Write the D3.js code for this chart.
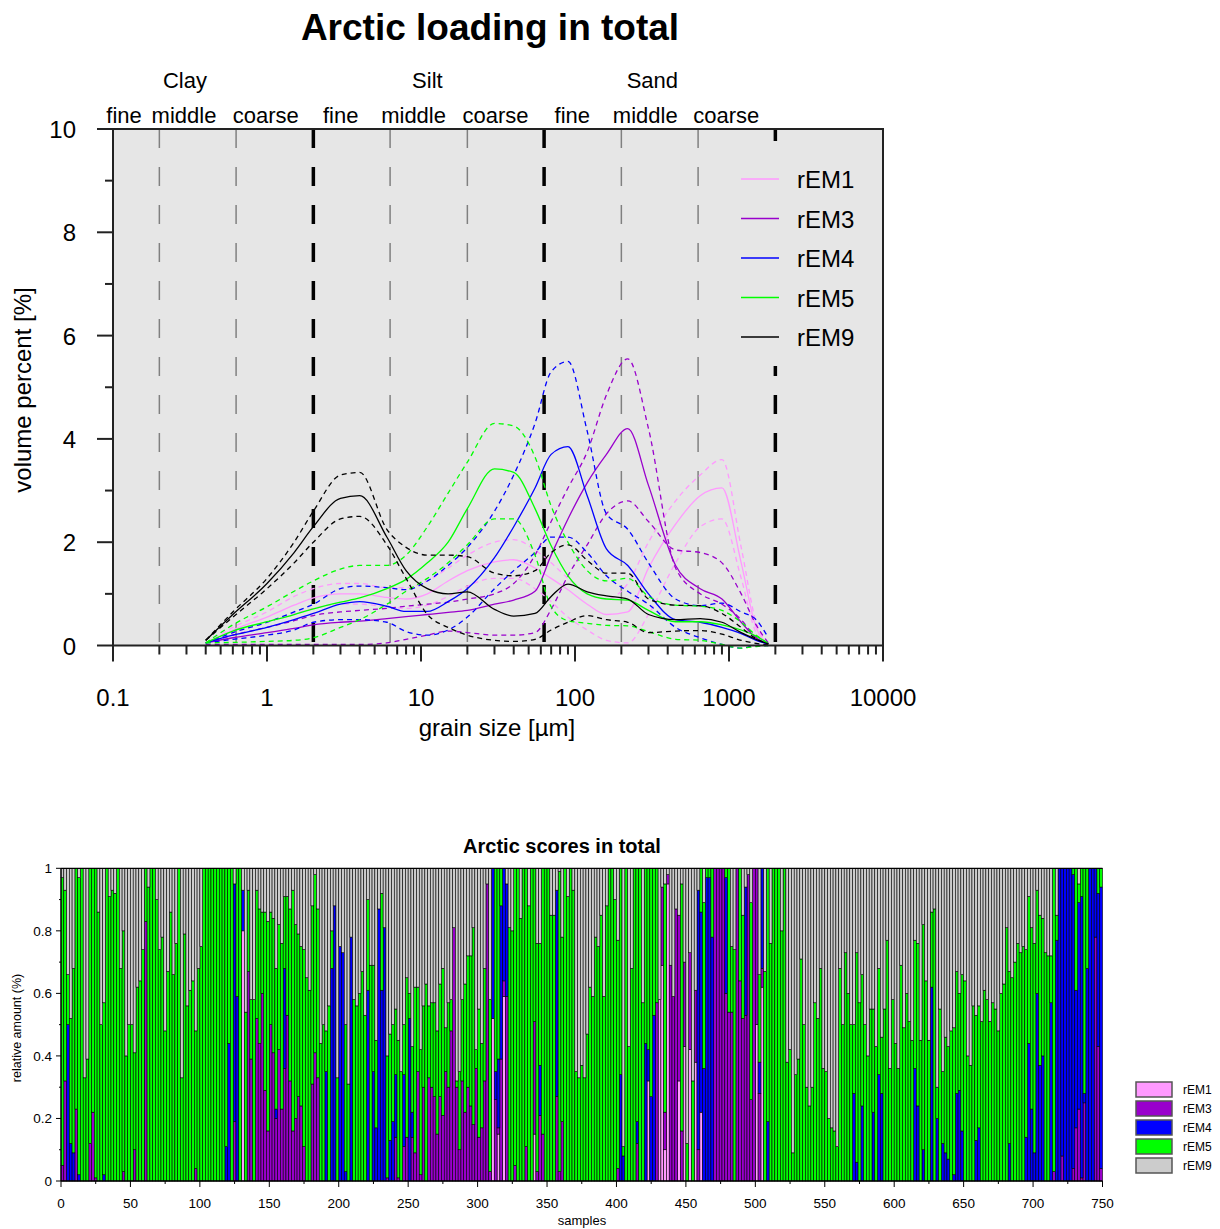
<!DOCTYPE html>
<html>
<head>
<meta charset="utf-8">
<script src="https://cdn.jsdelivr.net/npm/d3@7"></script>
<style>
  body { margin: 0; background: #fff; }
  svg { display: block; font-family: "Liberation Sans", Arial, sans-serif; }
</style>
</head>
<body>
<div id="container"></div>
<script>
// ---------- loadings (top chart) ----------
const emNames = ["rEM1", "rEM3", "rEM4", "rEM5", "rEM9"]

// grain sizes (µm) at which the loading curves were read
const grain = [0.4, 0.6, 1, 1.5, 2, 3, 4, 6, 8, 11, 15, 20, 30, 40, 55, 70, 90, 120, 160, 220, 300, 450, 650, 900, 1200, 1500, 1800]

// mean loadings (volume %)
const load1 = [0.05,0.3,0.55,0.78,0.92,1.0,1.0,0.93,0.9,1.0,1.25,1.45,1.62,1.66,1.5,1.3,1.08,0.8,0.6,0.65,1.5,2.35,2.9,3.05,1.6,0.35,0.04]
const load3 = [0.05,0.15,0.25,0.33,0.4,0.45,0.47,0.52,0.56,0.6,0.64,0.68,0.8,0.88,1.05,1.75,2.45,3.15,3.7,4.2,3.1,1.55,1.1,0.9,0.45,0.15,0.03]
const load4 = [0.05,0.2,0.35,0.5,0.62,0.8,0.85,0.76,0.66,0.66,0.85,1.1,1.7,2.3,3.05,3.7,3.85,2.9,1.87,1.55,1.0,0.5,0.45,0.35,0.23,0.1,0.03]
const load5 = [0.05,0.28,0.46,0.6,0.71,0.84,0.92,1.1,1.28,1.6,2.0,2.65,3.42,3.35,2.65,1.93,1.35,1.0,0.9,0.88,0.68,0.46,0.46,0.4,0.3,0.18,0.04]
const load9 = [0.1,0.6,1.2,1.8,2.3,2.85,2.9,2.1,1.45,1.1,1.0,1.04,0.7,0.57,0.62,0.95,1.19,1.04,0.96,0.9,0.6,0.5,0.52,0.45,0.25,0.12,0.03]

// upper / lower range lines (dashed)
const upper1 = [0.05,0.35,0.65,0.95,1.1,1.2,1.2,1.12,1.12,1.25,1.5,1.75,2.0,2.05,1.85,1.6,1.3,1.0,0.9,1.2,2.0,2.8,3.3,3.6,1.9,0.45,0.05]
const lower1 = [0.05,0.25,0.45,0.62,0.72,0.8,0.8,0.75,0.72,0.78,0.95,1.15,1.3,1.3,1.1,0.85,0.55,0.3,0.1,0.05,0.6,1.6,2.3,2.45,1.3,0.25,0.03]
const upper3 = [0.05,0.2,0.35,0.48,0.58,0.65,0.68,0.72,0.76,0.8,0.84,0.9,1.0,1.2,1.75,2.4,3.05,3.75,4.85,5.55,4.2,1.5,1.0,0.8,0.5,0.15,0.03]
const lower3 = [0.02,0.02,0.02,0.02,0.02,0.02,0.02,0.05,0.12,0.2,0.28,0.25,0.2,0.2,0.25,0.7,1.35,1.95,2.55,2.8,2.4,1.85,1.8,1.6,1.0,0.4,0.05]
const upper4 = [0.05,0.25,0.45,0.65,0.8,1.1,1.15,1.12,1.08,1.25,1.55,1.9,2.6,3.3,4.3,5.3,5.5,4.15,2.55,2.25,1.6,0.9,0.77,0.82,0.65,0.5,0.15]
const lower4 = [0.05,0.12,0.2,0.3,0.45,0.5,0.5,0.45,0.27,0.2,0.3,0.55,1.1,1.45,1.8,2.1,2.1,1.8,1.35,1.05,0.8,0.35,0.15,0.02,-0.05,0,0]
const upper5 = [0.05,0.4,0.75,1.05,1.25,1.48,1.55,1.55,1.75,2.3,2.95,3.55,4.3,4.25,3.65,2.7,2.0,1.45,1.25,1.3,0.95,0.78,0.76,0.68,0.45,0.2,0.04]
const lower5 = [0.05,0.06,0.08,0.1,0.15,0.35,0.5,0.8,1.05,1.3,1.6,1.95,2.45,2.45,1.75,0.75,0.48,0.43,0.39,0.38,0.27,0.12,0.1,0.02,-0.05,-0.02,0]
const upper9 = [0.1,0.65,1.3,2.0,2.6,3.3,3.35,2.25,1.9,1.75,1.75,1.72,1.4,1.35,1.45,1.8,1.95,1.65,1.4,1.4,0.9,0.78,0.77,0.62,0.35,0.13,0.03]
const lower9 = [0.1,0.55,1.1,1.6,2.0,2.45,2.5,1.95,1.3,0.6,0.35,0.2,0.1,0.08,0.12,0.3,0.45,0.58,0.5,0.45,0.25,0.28,0.29,0.22,0.1,0.04,0.01]

// grain-size class boundaries (µm)
const minorBounds = [0.2, 0.63, 6.3, 20, 200, 630]
const majorBounds = [2, 63, 2000]
const classGroups = [["Clay", 0.293], ["Silt", 11.0], ["Sand", 318]]
const classParts = [["fine", 0.118], ["middle", 0.289], ["coarse", 0.982],
                    ["fine", 3.01], ["middle", 8.95], ["coarse", 30.5],
                    ["fine", 96], ["middle", 286], ["coarse", 960]]
const xTickLabels = ["0.1", "1", "10", "100", "1000", "10000"]

// ---------- scores (bottom chart), one bar per two samples, values in % ----------
const rEM1 = [
  0,0,0,0,0,0,0,0,0,0,0,0,0,0,0,0,0,0,0,0,0,0,0,0,0,
  0,0,0,0,0,0,0,0,0,0,0,0,0,0,0,0,0,0,0,0,0,0,0,0,0,
  0,0,0,0,0,0,0,0,0,0,0,0,0,0,0,80,0,0,0,0,0,0,0,0,0,
  0,0,0,0,0,0,0,0,0,0,0,0,0,0,0,0,0,0,0,0,0,0,0,0,0,
  0,0,0,0,0,0,0,0,0,0,0,0,0,0,0,0,0,0,0,0,0,0,0,0,0,
  0,0,0,0,0,0,0,0,0,0,0,0,0,0,0,0,0,0,0,0,0,0,0,0,0,
  0,0,0,0,0,52,0,15,0,59,0,0,0,0,0,0,0,0,0,0,15,0,0,0,0,
  0,0,0,0,0,0,0,0,0,0,0,0,0,0,0,0,0,0,0,0,0,0,0,0,0,
  0,0,0,0,0,0,0,0,0,0,0,32,0,0,0,58,69,10,95,0,0,0,32,0,43,
  0,42,0,38,0,22,0,0,0,0,0,0,0,0,0,0,0,0,0,0,0,0,0,0,0,
  50,0,62,0,0,0,0,0,0,0,0,0,0,0,0,0,0,0,0,0,0,0,0,0,0,
  0,0,0,0,0,0,0,0,0,0,0,0,0,0,0,0,0,0,0,0,0,0,0,0,0,
  0,0,0,0,0,0,0,0,0,0,0,0,0,0,0,0,0,0,0,0,0,0,0,0,0,
  0,0,0,0,0,0,0,0,0,0,0,0,0,0,0,0,0,0,0,0,0,0,0,0,0,
  0,0,0,0,0,0,0,0,0,0,0,0,0,0,0,0,0,0,0,0,0,0,0,0,0]
const rEM3 = [
  5,32,0,0,0,23,0,0,0,0,12,22,1,0,0,0,0,0,0,0,0,0,3,0,0,
  0,10,0,0,0,83,0,0,0,0,0,0,0,0,0,0,0,0,0,0,0,0,0,4,0,
  0,0,0,0,0,0,0,0,0,0,0,0,19,0,0,0,0,67,39,0,52,44,60,29,16,
  50,41,20,42,23,36,53,32,16,20,27,24,11,0,0,31,41,33,0,0,0,0,0,0,0,
  0,0,0,0,0,0,0,0,0,0,0,0,0,0,0,0,0,1,0,0,14,1,0,11,14,
  0,14,9,35,2,30,0,33,30,27,15,27,21,35,30,48,81,30,10,32,22,30,24,18,36,
  14,17,32,95,3,0,26,2,39,5,59,0,0,5,0,0,0,11,0,0,36,3,21,15,0,
  0,0,0,27,3,19,0,0,0,0,0,0,0,0,0,0,0,0,0,0,0,0,0,0,0,
  4,0,0,0,0,0,0,12,0,0,0,0,0,0,57,0,25,12,3,69,59,87,53,16,27,
  0,31,0,23,10,0,0,0,0,0,100,100,100,100,60,54,54,0,100,64,52,53,98,26,100,
  50,28,6,0,0,0,0,0,0,0,0,0,0,0,0,0,0,0,0,0,0,0,0,0,0,
  0,0,0,0,0,0,0,0,0,0,0,0,0,0,0,0,0,0,0,0,0,0,0,0,0,
  0,0,0,0,0,0,0,0,0,0,0,0,0,0,0,0,0,0,0,0,0,0,0,0,0,
  0,0,0,0,0,0,0,0,0,0,0,0,0,0,0,0,0,0,0,0,0,0,0,0,0,
  0,0,0,0,0,0,0,3,0,0,8,0,0,0,4,17,23,1,25,0,0,0,78,43,4]
const rEM4 = [
  0,0,50,12,9,0,2,0,0,0,0,0,0,0,0,2,0,0,0,0,0,0,0,0,0,
  0,0,0,0,0,0,0,0,0,0,0,0,0,0,0,0,0,0,0,0,0,0,0,0,0,
  0,0,0,0,0,0,0,0,0,11,44,0,76,59,0,13,0,0,0,0,0,0,0,0,0,
  0,0,3,0,0,32,0,0,0,0,0,0,0,0,0,0,0,0,0,0,35,0,68,88,0,
  75,73,3,0,78,0,0,0,0,0,61,0,35,17,87,61,81,0,13,19,20,0,0,23,0,
  52,8,0,0,0,0,0,0,0,0,0,0,0,0,0,0,0,0,0,0,0,0,0,0,0,
  0,0,0,0,0,48,9,22,49,36,36,0,0,0,0,0,0,0,0,0,0,0,16,0,0,
  0,0,0,66,0,0,0,0,0,0,0,0,0,0,0,0,0,0,0,0,0,0,0,0,0,
  0,34,8,0,0,0,0,7,0,0,44,10,27,53,0,0,0,0,0,0,0,0,0,0,0,
  0,0,0,0,83,64,36,97,97,78,0,0,0,0,37,0,0,0,0,0,0,41,0,0,0,
  0,10,32,0,19,0,0,0,0,0,0,0,0,0,0,0,0,0,0,0,0,0,0,0,0,
  0,0,0,0,0,0,0,0,0,0,28,6,0,24,0,0,0,22,0,34,28,0,0,0,0,
  0,0,0,0,0,0,0,36,24,0,10,0,0,62,0,20,0,12,9,7,0,2,28,29,16,
  0,0,0,0,13,17,0,0,0,0,0,0,0,0,0,0,12,0,0,0,0,0,14,44,23,
  9,60,37,40,0,0,57,0,77,100,92,100,100,100,94,44,66,90,3,68,100,100,22,49,90]
const rEM5 = [
  92,61,16,40,59,77,95,100,33,39,88,78,99,86,50,55,100,91,93,92,100,68,77,40,50,
  50,31,62,64,74,17,94,100,100,90,74,78,48,67,86,66,76,100,33,79,56,61,64,44,68,
  75,100,100,100,100,100,100,100,100,89,56,100,0,41,100,0,54,26,19,58,41,43,26,57,67,
  36,43,45,40,53,23,38,55,77,62,52,51,63,65,61,57,57,54,44,50,13,56,12,0,33,
  0,0,47,31,0,58,56,60,67,53,29,69,34,28,0,31,0,39,34,31,21,44,35,16,51,
  8,21,53,27,40,26,63,23,27,30,33,36,47,14,27,10,0,2,25,26,41,42,48,63,6,
  41,27,36,0,55,0,65,61,12,0,0,81,80,95,100,84,100,89,88,100,49,73,39,85,100,
  100,85,85,0,96,59,100,91,100,93,35,33,37,33,47,62,59,78,75,85,59,88,100,100,90,
  73,66,3,100,43,68,100,81,100,57,56,58,73,47,43,0,0,73,0,0,0,0,0,79,0,
  12,0,32,0,0,14,53,3,3,22,0,0,0,0,3,46,21,74,0,36,33,0,0,63,0,
  0,28,0,67,81,76,100,100,100,80,100,38,42,9,34,39,71,50,30,24,30,57,52,68,36,
  35,20,17,16,11,68,50,73,60,50,22,67,57,42,50,40,55,33,43,34,18,55,77,36,58,
  44,36,69,49,60,51,45,41,52,45,72,64,45,24,87,10,55,23,37,36,48,47,39,31,50,
  64,40,37,56,40,39,51,61,58,51,57,55,48,60,63,81,55,65,70,76,73,75,60,47,58,
  67,33,48,44,73,72,15,97,8,0,0,0,0,0,2,39,6,9,72,32,0,0,0,8,6]
const rEM9 = [
  3,7,34,48,32,0,3,0,67,61,0,0,0,14,50,43,0,9,7,8,0,32,20,60,50,
  50,59,38,36,26,0,6,0,0,10,26,22,52,33,14,34,24,0,67,21,44,39,36,52,32,
  25,0,0,0,0,0,0,0,0,0,0,0,5,0,0,7,46,7,42,42,7,13,14,14,17,
  14,16,32,18,24,9,9,13,7,18,21,25,26,35,39,12,2,13,56,50,52,44,20,12,67,
  25,27,50,69,22,42,44,40,33,47,10,31,31,55,13,8,19,60,53,50,45,55,65,50,35,
  40,57,38,38,58,44,37,44,43,43,52,37,32,51,43,42,19,68,65,42,37,28,28,19,58,
  45,56,32,5,42,0,0,0,0,0,5,19,20,0,0,16,0,0,12,0,0,24,24,0,0,
  0,15,15,7,1,22,0,9,0,7,65,67,63,67,53,38,41,22,25,15,41,12,0,0,10,
  23,0,89,0,57,32,0,0,0,43,0,0,0,0,0,42,6,5,2,31,41,13,15,5,30,
  88,27,68,39,7,0,11,0,0,0,0,0,0,0,0,0,25,26,0,0,15,6,2,11,0,
  0,34,0,33,0,24,0,0,0,20,0,62,58,91,66,61,29,50,70,76,70,43,48,32,64,
  65,80,83,84,89,32,50,27,40,50,50,27,43,34,50,60,45,45,57,32,54,45,23,64,42,
  56,64,31,51,40,49,55,23,24,55,18,36,55,14,13,70,45,65,54,57,52,51,33,40,34,
  36,60,63,44,47,44,49,39,42,49,43,45,52,40,37,19,33,35,30,24,27,25,26,9,19,
  24,7,15,16,27,28,28,0,15,0,0,0,0,0,0,0,5,0,0,0,0,0,0,0,0]
const samplesPerBar = 2

const lineColors = { rEM1: "#ff99ff", rEM3: "#9900cc", rEM4: "#0000ff", rEM5: "#00ff00", rEM9: "#000000" }
const barColors = { rEM1: "#ff99ff", rEM3: "#9900cc", rEM4: "#0000ff", rEM5: "#00ff00", rEM9: "#cccccc" }

//add svg
let svg = d3.select("#container")
    .append("svg")
    .attr("width", 1220)
    .attr("height", 1229)

// ================= top: loadings =================
const x = d3.scaleLog().domain([0.1, 10000]).range([113, 883])
const y = d3.scaleLinear().domain([0, 10]).range([645.5, 129])
const plotBg = "#e6e6e6"

svg.append("text")
    .attr("x", 490).attr("y", 40)
    .attr("text-anchor", "middle")
    .attr("font-size", 37).attr("font-weight", "bold")
    .text("Arctic loading in total")

svg.append("rect")
    .attr("x", x(0.1)).attr("y", y(10))
    .attr("width", x(10000) - x(0.1)).attr("height", y(0) - y(10))
    .attr("fill", plotBg)

//class boundaries
svg.selectAll(null).data(minorBounds).enter().append("line")
    .attr("x1", d => x(d)).attr("x2", d => x(d))
    .attr("y1", y(10)).attr("y2", y(0))
    .attr("stroke", "#808080").attr("stroke-width", 1.5)
    .attr("stroke-dasharray", "19,19")
svg.selectAll(null).data(majorBounds).enter().append("line")
    .attr("x1", d => x(d)).attr("x2", d => x(d))
    .attr("y1", y(10)).attr("y2", y(0))
    .attr("stroke", "#000").attr("stroke-width", 3.5)
    .attr("stroke-dasharray", "19,19")

//legend background hides the boundary line behind it
svg.append("rect")
    .attr("x", 733).attr("y", 141).attr("width", 146).attr("height", 225)
    .attr("fill", plotBg)

//curves
const line = d3.line()
    .x(d => x(d[0]))
    .y(d => y(d[1]))
    .curve(d3.curveMonotoneX)

const curves = [
  ["rEM1", load1, upper1, lower1],
  ["rEM3", load3, upper3, lower3],
  ["rEM4", load4, upper4, lower4],
  ["rEM5", load5, upper5, lower5],
  ["rEM9", load9, upper9, lower9]
]
const curveG = svg.append("g")
curves.forEach(([name, mean, up, low]) => {
    [up, low].forEach(vals => {
        curveG.append("path")
            .datum(d3.zip(grain, vals))
            .attr("d", line)
            .attr("fill", "none")
            .attr("stroke", lineColors[name])
            .attr("stroke-width", 1.3)
            .attr("stroke-dasharray", "5,4")
    })
    curveG.append("path")
        .datum(d3.zip(grain, mean))
        .attr("d", line)
        .attr("fill", "none")
        .attr("stroke", lineColors[name])
        .attr("stroke-width", 1.3)
})

//frame
svg.append("rect")
    .attr("x", x(0.1)).attr("y", y(10))
    .attr("width", x(10000) - x(0.1)).attr("height", y(0) - y(10))
    .attr("fill", "none").attr("stroke", "#222").attr("stroke-width", 2)

//y axis ticks
const yTicks = d3.range(0, 11)
svg.selectAll(null).data(yTicks).enter().append("line")
    .attr("x1", d => d % 2 ? x(0.1) - 8 : x(0.1) - 16).attr("x2", x(0.1))
    .attr("y1", d => y(d)).attr("y2", d => y(d))
    .attr("stroke", "#222").attr("stroke-width", 2)
svg.selectAll(null).data(yTicks.filter(d => d % 2 === 0)).enter().append("text")
    .attr("x", 76).attr("y", d => y(d) + 9)
    .attr("text-anchor", "end").attr("font-size", 24)
    .text(d => d)

//x axis ticks
const decades = [0.1, 1, 10, 100, 1000, 10000]
const minorX = decades.slice(0, -1).flatMap(d => d3.range(2, 10).map(k => k * d))
svg.selectAll(null).data(decades).enter().append("line")
    .attr("x1", d => x(d)).attr("x2", d => x(d))
    .attr("y1", y(0)).attr("y2", y(0) + 16)
    .attr("stroke", "#222").attr("stroke-width", 2)
svg.selectAll(null).data(minorX).enter().append("line")
    .attr("x1", d => x(d)).attr("x2", d => x(d))
    .attr("y1", y(0)).attr("y2", y(0) + 9)
    .attr("stroke", "#222").attr("stroke-width", 2)
svg.selectAll(null).data(decades).enter().append("text")
    .attr("x", d => x(d)).attr("y", 706)
    .attr("text-anchor", "middle").attr("font-size", 24)
    .text((d, i) => xTickLabels[i])

svg.append("text")
    .attr("x", 497).attr("y", 736)
    .attr("text-anchor", "middle").attr("font-size", 24)
    .text("grain size [µm]")
svg.append("text")
    .attr("transform", "translate(31,390) rotate(-90)")
    .attr("text-anchor", "middle").attr("font-size", 24)
    .text("volume percent [%]")

//class labels
svg.selectAll(null).data(classGroups).enter().append("text")
    .attr("x", d => x(d[1])).attr("y", 88)
    .attr("text-anchor", "middle").attr("font-size", 22)
    .text(d => d[0])
svg.selectAll(null).data(classParts).enter().append("text")
    .attr("x", d => x(d[1])).attr("y", 123)
    .attr("text-anchor", "middle").attr("font-size", 22)
    .text(d => d[0])

//legend
const legTop = svg.append("g")
emNames.forEach((name, i) => {
    const ly = 179 + i * 39.5
    legTop.append("line")
        .attr("x1", 741).attr("x2", 779).attr("y1", ly).attr("y2", ly)
        .attr("stroke", lineColors[name]).attr("stroke-width", 1.5)
    legTop.append("text")
        .attr("x", 797).attr("y", ly + 9)
        .attr("font-size", 24)
        .text(name)
})

// ================= bottom: scores =================
const xb = d3.scaleLinear().domain([0, 750]).range([61, 1102.5])
const yb = d3.scaleLinear().domain([0, 1]).range([1181, 868.3])

svg.append("text")
    .attr("x", 562).attr("y", 853)
    .attr("text-anchor", "middle")
    .attr("font-size", 20).attr("font-weight", "bold")
    .text("Arctic scores in total")

const scoreTable = rEM1.map((v, i) => ({
    sample: i * samplesPerBar,
    rEM1: v / 100, rEM3: rEM3[i] / 100, rEM4: rEM4[i] / 100,
    rEM5: rEM5[i] / 100, rEM9: rEM9[i] / 100
}))
const stack = d3.stack().keys(emNames)(scoreTable)
const barW = xb(samplesPerBar) - xb(0)

svg.append("g").selectAll("g")
    .data(stack)
    .enter().append("g")
    .attr("fill", d => barColors[d.key])
    .selectAll("rect")
    .data(d => d.filter(s => s[1] > s[0]))
    .enter().append("rect")
    .attr("x", d => xb(d.data.sample))
    .attr("y", d => yb(d[1]))
    .attr("width", barW)
    .attr("height", d => yb(d[0]) - yb(d[1]))
    .attr("stroke", "#000")
    .attr("stroke-width", 0.6)

//axes
svg.append("line")
    .attr("x1", xb(0)).attr("x2", xb(750)).attr("y1", yb(1)).attr("y2", yb(1))
    .attr("stroke", "#000").attr("stroke-width", 1.3)
svg.append("line")
    .attr("x1", xb(0)).attr("x2", xb(0)).attr("y1", yb(0)).attr("y2", yb(1))
    .attr("stroke", "#000").attr("stroke-width", 1.3)
svg.append("line")
    .attr("x1", xb(0)).attr("x2", xb(750)).attr("y1", yb(0)).attr("y2", yb(0))
    .attr("stroke", "#000").attr("stroke-width", 1.3)

const ybTicks = d3.range(0, 11).map(k => k / 10)
svg.selectAll(null).data(ybTicks).enter().append("line")
    .attr("x1", (d, i) => i % 2 ? xb(0) - 2 : xb(0) - 5).attr("x2", xb(0))
    .attr("y1", d => yb(d)).attr("y2", d => yb(d))
    .attr("stroke", "#000")
svg.selectAll(null).data(ybTicks.filter((d, i) => i % 2 === 0)).enter().append("text")
    .attr("x", 52).attr("y", d => yb(d) + 5)
    .attr("text-anchor", "end").attr("font-size", 13.5)
    .text(d => d)

const xbTicks = d3.range(0, 751, 25)
svg.selectAll(null).data(xbTicks).enter().append("line")
    .attr("x1", d => xb(d)).attr("x2", d => xb(d))
    .attr("y1", yb(0)).attr("y2", d => d % 50 ? yb(0) + 3 : yb(0) + 6)
    .attr("stroke", "#000")
svg.selectAll(null).data(xbTicks.filter(d => d % 50 === 0)).enter().append("text")
    .attr("x", d => xb(d)).attr("y", 1208)
    .attr("text-anchor", "middle").attr("font-size", 13.5)
    .text(d => d)

svg.append("text")
    .attr("x", 582).attr("y", 1225)
    .attr("text-anchor", "middle").attr("font-size", 13)
    .text("samples")
svg.append("text")
    .attr("transform", "translate(21,1028) rotate(-90)")
    .attr("text-anchor", "middle").attr("font-size", 12.5)
    .text("relative amount (%)")

//legend
const legBot = svg.append("g")
emNames.forEach((name, i) => {
    const ly = 1082 + i * 19
    legBot.append("rect")
        .attr("x", 1136).attr("y", ly).attr("width", 36).attr("height", 15)
        .attr("fill", barColors[name]).attr("stroke", "#555").attr("stroke-width", 1.5)
    legBot.append("text")
        .attr("x", 1183).attr("y", ly + 12)
        .attr("font-size", 12)
        .text(name)
})
</script>
</body>
</html>
